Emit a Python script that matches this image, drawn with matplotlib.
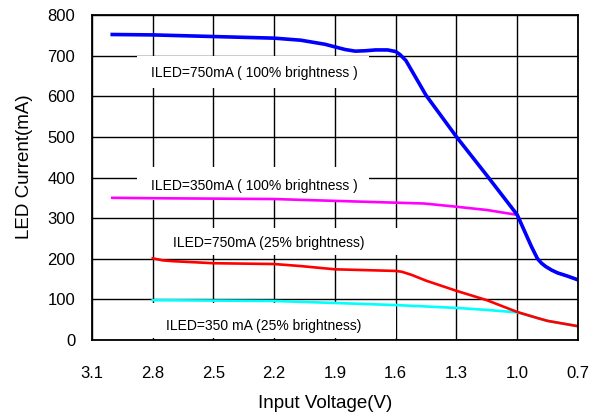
import matplotlib
matplotlib.use('Agg')
import matplotlib.pyplot as plt
from matplotlib.patches import Rectangle

plt.rcParams['font.family'] = ['Liberation Sans', 'DejaVu Sans']

# ILED=750mA (100% brightness)
v_750_100 = [3.0, 2.8, 2.5, 2.2, 2.07, 1.95, 1.85, 1.8, 1.75, 1.7, 1.64, 1.6, 1.58, 1.55, 1.45, 1.3, 1.15, 1.0, 0.93, 0.9, 0.88, 0.86, 0.83, 0.8, 0.75, 0.7]
i_750_100 = [752, 751, 747, 743, 738, 728, 715, 711, 712, 714, 714, 710, 703, 688, 602, 500, 405, 308, 230, 200, 189, 181, 172, 165, 157, 148]

# ILED=350mA (100% brightness)
v_350_100 = [3.0, 2.8, 2.5, 2.2, 2.07, 1.6, 1.46, 1.3, 1.15, 1.0, 0.93, 0.9, 0.88, 0.86, 0.83, 0.8, 0.75, 0.7]
i_350_100 = [350, 349, 348, 347, 345, 338, 336, 328, 320, 308, 230, 200, 189, 181, 172, 165, 157, 148]

# ILED=750mA (25% brightness)
v_750_25 = [2.8, 2.75, 2.7, 2.5, 2.2, 2.07, 1.9, 1.6, 1.57, 1.52, 1.45, 1.3, 1.15, 1.0, 0.9, 0.85, 0.7]
i_750_25 = [201, 196, 194, 189, 187, 182, 174, 170, 168, 160, 146, 121, 98, 69, 54, 47, 34]

# ILED=350mA (25% brightness)
v_350_25 = [2.8, 2.5, 2.2, 2.07, 1.6, 1.3, 1.15, 1.0, 0.9, 0.85, 0.7]
i_350_25 = [98, 97, 96, 94, 86, 79, 74, 68, 54, 47, 34]

xticks = [3.1, 2.8, 2.5, 2.2, 1.9, 1.6, 1.3, 1.0, 0.7]
yticks = [0, 100, 200, 300, 400, 500, 600, 700, 800]

labels = [
    ("ILED=750mA ( 100% brightness )", 2.3, 657, (2.88, 620, 1.15, 78)),
    ("ILED=350mA ( 100% brightness )", 2.3, 380, (2.88, 344, 1.15, 82)),
    ("ILED=750mA (25% brightness)", 2.226, 240, (2.78, 209, 1.21, 66)),
    ("ILED=350 mA (25% brightness)", 2.25, 34, (2.82, 5, 1.22, 86)),
]

fig = plt.figure(figsize=(5.99, 4.17), dpi=100)
ax = fig.add_axes([92/599, 1-340/417, (578-92)/599, (340-15)/417])

ax.set_xlim(3.1, 0.7)
ax.set_ylim(0, 800)
ax.set_xticks(xticks)
ax.set_xticklabels([f"{t:.1f}" for t in xticks])
ax.set_yticks(yticks)
ax.grid(True, color="black", linewidth=1.0, zorder=0)
ax.set_axisbelow(True)
ax.tick_params(length=0, labelsize=12)
ax.tick_params(axis="x", pad=19)
ax.tick_params(axis="y", pad=12)
for sp in ax.spines.values():
    sp.set_linewidth(1.3)

for txt, x, y, (bx, by, bw, bh) in labels:
    ax.add_patch(Rectangle((bx, by), -bw, bh, facecolor="white", edgecolor="none", zorder=1))
    ax.text(x, y, txt, ha="center", va="center", fontsize=10, color="black", zorder=4)

ax.plot(v_350_25, i_350_25, color="#00FFFF", linewidth=1.9, zorder=2)
ax.plot(v_750_25, i_750_25, color="#FF0000", linewidth=1.9, zorder=2.1)
ax.plot(v_350_100, i_350_100, color="#FF00FF", linewidth=1.9, zorder=2.2)
ax.plot(v_750_100, i_750_100, color="#0000FF", linewidth=2.6, zorder=2.3)

ax.text(-0.138, 0.533, "LED Current(mA)", transform=ax.transAxes, rotation=90,
        ha="center", va="center", fontsize=13.5)
ax.text(0.48, -0.194, "Input Voltage(V)", transform=ax.transAxes,
        ha="center", va="center", fontsize=13.5)

fig.savefig("out.png", dpi=100, facecolor="white")
